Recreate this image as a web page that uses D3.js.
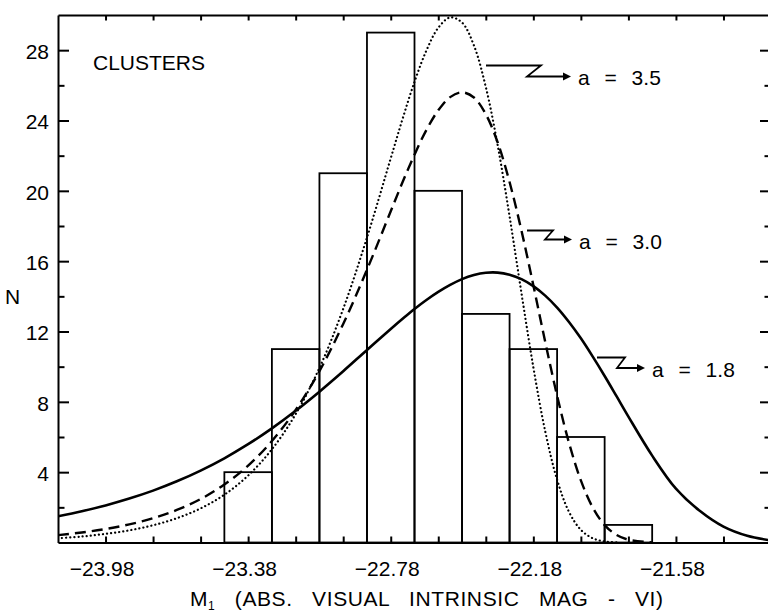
<!DOCTYPE html>
<html><head><meta charset="utf-8">
<script src="https://cdn.jsdelivr.net/npm/d3@7"></script>
<style>
body{margin:0;background:#fff;}
svg text{font-family:"Liberation Sans",Arial,sans-serif;fill:#000;}
</style></head><body>
<svg id="chart" width="768" height="614"></svg>
<script>
// ---- data ----
const binCenters = [-23.38, -23.18, -22.98, -22.78, -22.58, -22.38, -22.18, -21.98, -21.78];
const binCounts  = [4, 11, 21, 29, 20, 13, 11, 6, 1];
const binWidth = 0.2;

const curveMags = [-24.18, -24.08, -23.98, -23.88, -23.78, -23.68, -23.58, -23.48, -23.38, -23.28,
  -23.18, -23.08, -22.98, -22.88, -22.78, -22.73, -22.68, -22.63, -22.58, -22.53,
  -22.48, -22.43, -22.38, -22.33, -22.28, -22.23, -22.18, -22.13, -22.08, -22.03,
  -21.98, -21.93, -21.88, -21.83, -21.78, -21.68, -21.58, -21.48, -21.38, -21.28, -21.18];
const curveA35 = [0.24, 0.34, 0.49, 0.69, 0.98, 1.38, 1.94, 2.72, 3.81, 5.30,
  7.30, 9.93, 13.29, 17.34, 21.85, 24.10, 26.20, 27.98, 29.27, 29.86,
  29.57, 28.27, 25.91, 22.59, 18.55, 14.19, 9.97, 6.33, 3.57, 1.74,
  0.72, 0.24, 0.06, 0.01, 0, 0, 0, 0, 0, 0, 0];
const curveA30 = [0.42, 0.57, 0.77, 1.03, 1.38, 1.85, 2.47, 3.30, 4.37, 5.77,
  7.54, 9.75, 12.43, 15.51, 18.84, 20.50, 22.06, 23.46, 24.58, 25.33,
  25.60, 25.31, 24.36, 22.75, 20.50, 17.74, 14.63, 11.41, 8.35, 5.67,
  3.53, 1.99, 0.99, 0.43, 0.16, 0.01, 0, 0, 0, 0, 0];
const curveA18 = [1.49, 1.78, 2.11, 2.50, 2.95, 3.48, 4.09, 4.79, 5.59, 6.49,
  7.49, 8.58, 9.74, 10.95, 12.14, 12.72, 13.28, 13.79, 14.25, 14.65,
  14.98, 15.21, 15.34, 15.35, 15.23, 14.98, 14.58, 14.04, 13.36, 12.54,
  11.61, 10.57, 9.47, 8.32, 7.16, 4.94, 3.06, 1.80, 0.90, 0.38, 0.12];

const curveLabels = ["a = 3.5", "a = 3.0", "a = 1.8"];
const yTickLabels = [4, 8, 12, 16, 20, 24, 28];
const yMinorTicks = [2, 6, 10, 14, 18, 22, 26];
const xTickLabels = [-23.98, -23.38, -22.78, -22.18, -21.58];
const xMinorTicks = [-23.98, -23.78, -23.58, -23.38, -23.18, -22.98, -22.78, -22.58,
  -22.38, -22.18, -21.98, -21.78, -21.58, -21.38];
const xDomain = [-24.18, -21.18];
const yDomain = [0, 30];

// ---- layout ----
const L = 58, R = 771, T = 15, B = 542.5;
const svg = d3.select("#chart");
const x = d3.scaleLinear().domain(xDomain).range([L, R]);
const y = d3.scaleLinear().domain(yDomain).range([B, T]);

svg.append("defs").append("clipPath").attr("id", "plotclip")
  .append("rect").attr("x", L).attr("y", T - 10).attr("width", R - L).attr("height", B - T + 10);

// bars
svg.append("g").selectAll("rect").data(binCenters).join("rect")
  .attr("x", d => x(d - binWidth / 2))
  .attr("width", d => x(d + binWidth / 2) - x(d - binWidth / 2))
  .attr("y", (d, i) => y(binCounts[i]))
  .attr("height", (d, i) => y(0) - y(binCounts[i]))
  .attr("fill", "none").attr("stroke", "#000").attr("stroke-width", 1.8);

// curves
function addCurve(vals, dash, w, cap) {
  const line = d3.line()
    .defined(i => vals[i] > 0)
    .x(i => x(curveMags[i])).y(i => y(vals[i]))
    .curve(d3.curveCatmullRom);
  svg.append("path").attr("clip-path", "url(#plotclip)")
    .attr("d", line(d3.range(curveMags.length)))
    .attr("fill", "none").attr("stroke", "#000").attr("stroke-width", w)
    .attr("stroke-dasharray", dash).attr("stroke-linecap", cap);
}
addCurve(curveA35, "0.1 4", 2.2, "round");
addCurve(curveA30, "11 6", 2.4, "butt");
addCurve(curveA18, null, 2.6, "butt");

// axes
function styleAxis(g) {
  g.selectAll("path.domain").attr("stroke", "#000").attr("stroke-width", 2);
  g.selectAll(".tick line").attr("stroke", "#000").attr("stroke-width", 2);
  g.selectAll("text").attr("font-size", 21).attr("font-family", "Liberation Sans, Arial, sans-serif");
}
// bottom
svg.append("g").attr("transform", `translate(0,${B})`)
  .call(d3.axisBottom(x).tickValues(xMinorTicks).tickSizeInner(-6).tickSizeOuter(0).tickFormat(""))
  .call(styleAxis);
svg.append("g").attr("transform", `translate(0,${B})`)
  .call(d3.axisBottom(x).tickValues(xTickLabels).tickSize(0).tickPadding(18.6).tickFormat(d3.format(".2f")))
  .call(g => g.select("path.domain").remove())
  .call(styleAxis)
  .call(g => g.selectAll("text").attr("dx", -4));
// top
svg.append("g").attr("transform", `translate(0,${T})`)
  .call(d3.axisTop(x).tickValues(xMinorTicks).tickSizeInner(-5.5).tickSizeOuter(0).tickFormat(""))
  .call(styleAxis);
// left
svg.append("g").attr("transform", `translate(${L},0)`)
  .call(d3.axisLeft(y).tickValues(yTickLabels).tickSizeInner(-11).tickSizeOuter(0).tickPadding(9))
  .call(styleAxis)
  .call(g => g.selectAll("text").attr("dy", "0.4em"));
svg.append("g").attr("transform", `translate(${L},0)`)
  .call(d3.axisLeft(y).tickValues(yMinorTicks).tickSizeInner(-6.5).tickSizeOuter(0).tickFormat(""))
  .call(g => g.select("path.domain").remove())
  .call(styleAxis);
// right
svg.append("g").attr("transform", `translate(${R},0)`)
  .call(d3.axisRight(y).tickValues(yTickLabels).tickSizeInner(-11).tickSizeOuter(0).tickFormat(""))
  .call(styleAxis);
svg.append("g").attr("transform", `translate(${R},0)`)
  .call(d3.axisRight(y).tickValues(yMinorTicks).tickSizeInner(-6.5).tickSizeOuter(0).tickFormat(""))
  .call(g => g.select("path.domain").remove())
  .call(styleAxis);

// axis titles
svg.append("text").attr("x", 5).attr("y", 304).attr("font-size", 21).text("N");
const xt = svg.append("text").attr("x", 190).attr("y", 606).attr("font-size", 21)
  .attr("word-spacing", 13).attr("letter-spacing", 0.6).attr("xml:space", "preserve");
xt.append("tspan").text("M");
xt.append("tspan").attr("font-size", 12).attr("dy", 4).text("1");
xt.append("tspan").attr("dy", -4).text(" (ABS. VISUAL INTRINSIC MAG - VI)");

svg.append("text").attr("x", 93).attr("y", 70).attr("font-size", 21).text("CLUSTERS");

// annotations (zig-zag arrows)
const arrows = [
  {tail: [486, 65.5], zig: 541, zag: [527, 76.5], tip: 571, tx: 578, ty: 85},
  {tail: [527, 230.5], zig: 553, zag: [545, 239.5], tip: 572, tx: 579, ty: 249},
  {tail: [597, 357.5], zig: 625, zag: [617, 368], tip: 645, tx: 652, ty: 377}
];
arrows.forEach((a, i) => {
  const g = svg.append("g");
  g.append("path")
    .attr("d", `M${a.tail[0]},${a.tail[1]}H${a.zig}L${a.zag[0]},${a.zag[1]}H${a.tip - 6}`)
    .attr("fill", "none").attr("stroke", "#000").attr("stroke-width", 1.8);
  g.append("path")
    .attr("d", `M${a.tip},${a.zag[1]}L${a.tip - 8},${a.zag[1] - 4}L${a.tip - 8},${a.zag[1] + 4}Z`)
    .attr("fill", "#000");
  g.append("text").attr("x", a.tx).attr("y", a.ty).attr("font-size", 21)
    .attr("word-spacing", 9).text(curveLabels[i]);
});
</script>
</body></html>
